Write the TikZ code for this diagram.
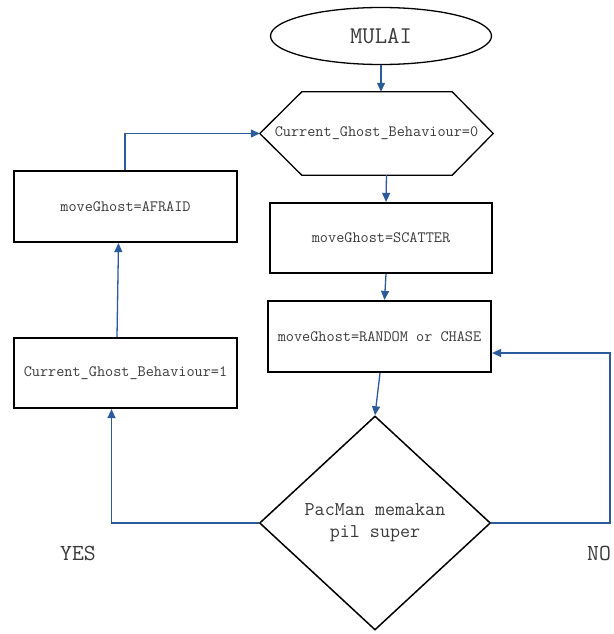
\documentclass[tikz,border=0pt]{standalone}
\usetikzlibrary{shapes.geometric,arrows.meta,calc}
\definecolor{arr}{HTML}{2B5B9C}
\definecolor{txt}{HTML}{3A3A3A}
\begin{document}
\begin{tikzpicture}[x=1pt,y=-1pt,
  box/.style={draw, line width=2.2pt, minimum width=222pt, minimum height=70pt, inner sep=0pt,
    font=\ttfamily\fontsize{15.8}{18}\selectfont, text=txt},
  flow/.style={draw=arr, line width=1.3pt, -{Triangle[width=8pt,length=9pt]}},
  lbl/.style={font=\ttfamily\fontsize{23}{26}\selectfont, text=txt, inner sep=0pt}
]
\useasboundingbox (0,0) rectangle (613,634);

% start
\node[ellipse, draw, line width=1.3pt, minimum width=221pt, minimum height=57pt, inner sep=0pt,
  font=\ttfamily\fontsize{24}{27}\selectfont, text=txt] (start) at (381,36) {MULAI};

% hexagon (preparation)
\node[minimum width=233pt, minimum height=83pt, inner sep=0pt,
  font=\ttfamily\fontsize{15.8}{18}\selectfont, text=txt] (hex) at (376.5,133.5) {Current\_Ghost\_Behaviour=0};
\draw[line width=1.3pt, line join=miter]
  (hex.west) -- ($(hex.north west)+(42,0)$) -- ($(hex.north east)+(-41,0)$) -- (hex.east)
  -- ($(hex.south east)+(-41,0)$) -- ($(hex.south west)+(42,0)$) -- cycle;

% process boxes
\node[box] (scatter) at (381,238) {moveGhost=SCATTER};
\node[box, minimum width=223pt, minimum height=71pt] (random) at (379.5,336.5) {moveGhost=RANDOM or CHASE};
\node[box, minimum width=223pt, minimum height=71pt] (afraid) at (125.5,206.5) {moveGhost=AFRAID};
\node[box, minimum width=223pt] (cgb) at (125.5,373) {Current\_Ghost\_Behaviour=1};

% decision
\node[diamond, draw, line width=1.5pt, minimum width=231pt, minimum height=214pt, inner sep=0pt,
  align=center, font=\ttfamily\fontsize{19.5}{22}\selectfont, text=txt] (dec) at (375,523)
  {PacMan memakan\\pil super};

% labels
\node[lbl] (yes) at (78,553) {YES};
\node[lbl, anchor=west] (no) at (587,553) {NO};

% connectors
\draw[flow] (start.south) -- (hex.north -| start.south);
\draw[flow] ($(hex.south)+(10,0)$) -- ($(scatter.north)+(5,0)$);
\draw[flow] ($(scatter.south)+(5,0)$) -- ($(random.north)+(5,0)$);
\draw[flow] ($(random.south)+(0.5,0)$) -- (dec.north);
\draw[flow] (dec.west) -| ($(cgb.south)+(-14,0)$);
\draw[flow] ($(cgb.north)+(-8.5,0)$) -- ($(afraid.south)+(-7,0)$);
\draw[flow] ($(afraid.north)+(-0.5,0)$) |- (hex.west);
\coordinate (noturn) at (610,523);
\draw[flow] (dec.east) -- (noturn) |- ($(random.east)+(0,16.5)$);
\end{tikzpicture}
\end{document}
